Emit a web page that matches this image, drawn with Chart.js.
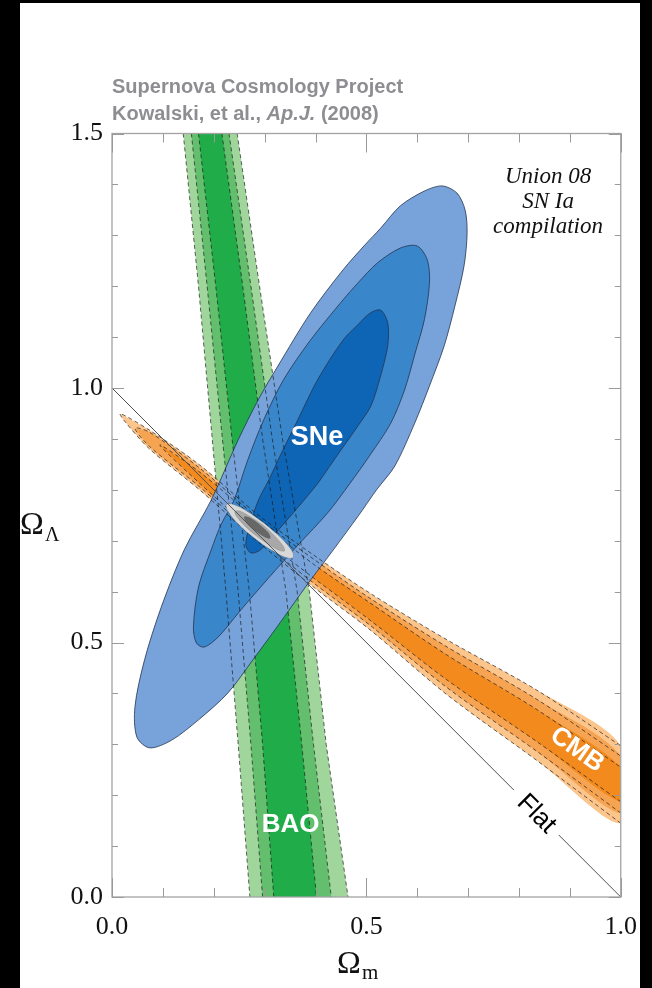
<!DOCTYPE html>
<html>
<head>
<meta charset="utf-8">
<script src="https://cdn.jsdelivr.net/npm/chart.js@4.4.1/dist/chart.umd.min.js"></script>
<style>
  html, body { margin: 0; padding: 0; background: #000; }
  canvas { display: block; }
</style>
</head>
<body>
<canvas id="chart" width="652" height="988"></canvas>
<script>
// ---- axis tick labels ----
const xTickLabels = ['0.0', '0.5', '1.0'];
const yTickLabels = ['0.0', '0.5', '1.0', '1.5'];

// ---- BAO band: edge positions (Omega_m) at fixed Omega_Lambda levels ----
const baoLambda     = [1.5, 1.2, 0.9, 0.6, 0.3, 0.0];
const baoOuterLeft  = [0.140, 0.170, 0.197, 0.224, 0.248, 0.271];
const baoOuterRight = [0.246, 0.290, 0.335, 0.388, 0.421, 0.464];
const baoMidLeft    = [0.156, 0.187, 0.217, 0.248, 0.273, 0.296];
const baoMidRight   = [0.230, 0.273, 0.315, 0.364, 0.396, 0.431];
const baoInnerLeft  = [0.170, 0.204, 0.236, 0.270, 0.296, 0.318];
const baoInnerRight = [0.216, 0.257, 0.296, 0.342, 0.373, 0.402];

// ---- CMB band: upper / lower edges, [Omega_m, Omega_Lambda] ----
const cmbOuterUpper = [[0.016,0.950],[0.074,0.917],[0.172,0.849],[0.288,0.750],[0.396,0.672],[0.507,0.597],[0.659,0.505],[0.834,0.407],[1.000,0.297]];
const cmbOuterLower = [[0.023,0.937],[0.074,0.880],[0.172,0.800],[0.288,0.697],[0.396,0.609],[0.507,0.525],[0.659,0.397],[0.834,0.269],[1.000,0.145]];
const cmbMidUpper   = [[0.045,0.921],[0.074,0.913],[0.172,0.843],[0.288,0.744],[0.396,0.664],[0.507,0.587],[0.659,0.491],[0.834,0.389],[1.000,0.277]];
const cmbMidLower   = [[0.074,0.885],[0.172,0.806],[0.288,0.704],[0.396,0.617],[0.507,0.534],[0.659,0.411],[0.834,0.287],[1.000,0.165]];
const cmbInnerUpper = [[0.094,0.888],[0.172,0.835],[0.288,0.739],[0.396,0.654],[0.507,0.578],[0.659,0.475],[0.834,0.369],[1.000,0.255]];
const cmbInnerLower = [[0.172,0.813],[0.288,0.711],[0.396,0.627],[0.507,0.544],[0.659,0.426],[0.834,0.306],[1.000,0.187]];

// ---- SNe confidence contours (closed), [Omega_m, Omega_Lambda] ----
const sneOuter = [[0.386,0.617],[0.324,0.530],[0.277,0.466],[0.228,0.401],[0.170,0.348],[0.117,0.308],[0.074,0.293],[0.049,0.314],[0.045,0.373],[0.064,0.466],[0.097,0.570],[0.142,0.682],[0.195,0.780],[0.248,0.898],[0.287,0.976],[0.326,1.043],[0.390,1.147],[0.454,1.232],[0.497,1.281],[0.528,1.314],[0.567,1.358],[0.614,1.387],[0.649,1.397],[0.678,1.383],[0.694,1.350],[0.698,1.305],[0.692,1.240],[0.674,1.161],[0.653,1.083],[0.624,1.004],[0.595,0.931],[0.556,0.847],[0.520,0.800],[0.485,0.750],[0.435,0.682]];
const sneMid   = [[0.366,0.692],[0.308,0.627],[0.250,0.560],[0.209,0.511],[0.181,0.491],[0.166,0.499],[0.160,0.530],[0.170,0.609],[0.195,0.682],[0.214,0.731],[0.240,0.780],[0.267,0.859],[0.298,0.937],[0.337,1.016],[0.390,1.094],[0.454,1.173],[0.483,1.206],[0.522,1.246],[0.567,1.275],[0.600,1.279],[0.620,1.251],[0.624,1.206],[0.614,1.134],[0.596,1.069],[0.575,0.996],[0.548,0.931],[0.507,0.868],[0.468,0.813],[0.425,0.756]];
const sneInner = [[0.405,0.813],[0.366,0.766],[0.327,0.721],[0.292,0.682],[0.273,0.676],[0.263,0.692],[0.271,0.731],[0.288,0.780],[0.308,0.819],[0.331,0.868],[0.365,0.937],[0.404,1.016],[0.454,1.094],[0.483,1.124],[0.507,1.147],[0.528,1.153],[0.542,1.128],[0.542,1.083],[0.528,1.024],[0.509,0.965],[0.483,0.925],[0.450,0.878]];

// ---- combined SNe+BAO+CMB contours (closed) ----
const jointOuter = [[0.301,0.733],[0.267,0.757],[0.239,0.771],[0.225,0.771],[0.228,0.758],[0.248,0.733],[0.280,0.705],[0.314,0.681],[0.342,0.667],[0.356,0.667],[0.353,0.681],[0.333,0.705]];
const jointMid   = [[0.298,0.730],[0.272,0.747],[0.252,0.758],[0.242,0.758],[0.244,0.749],[0.260,0.730],[0.283,0.710],[0.309,0.692],[0.329,0.681],[0.339,0.680],[0.336,0.690],[0.321,0.708]];
const jointInner = [[0.290,0.732],[0.271,0.745],[0.260,0.747],[0.264,0.736],[0.281,0.720],[0.301,0.707],[0.311,0.705],[0.307,0.716]];

// ---- flat universe line, broken where its label sits ----
const flatSegments = [[[0.0,1.0],[0.790,0.210]], [[0.878,0.122],[1.0,0.0]]];

// ---- helpers ----
const toXY = pts => pts.map(([x, y]) => ({ x, y }));
const closed = pts => toXY([...pts, pts[0]]);
const baoEdge = edge => baoLambda.map((l, i) => [edge[i], l]);
const baoShape = (left, right) => toXY([...baoEdge(left), ...baoEdge(right).reverse(), [left[0], baoLambda[0]]]);
const cmbShape = (upper, lower) => toXY([...upper, ...lower.slice().reverse(), upper[0]]);
const cmbOutline = (upper, lower) => toXY([...lower.slice().reverse(), ...upper]);

const base = { showLine: true, pointRadius: 0, pointHoverRadius: 0 };
const layers = []; // bottom first

const baoColors = ['#a0d69c', '#63bf6d', '#1fac49'];
const cmbColors = ['#fbc58c', '#f6a452', '#f28a1d'];
const sneColors = ['#77a3da', '#3a86cb', '#0e65b5'];
const jointColors = ['#d8d8d8', '#a8a8a8', '#676767'];

[[baoOuterLeft, baoOuterRight], [baoMidLeft, baoMidRight], [baoInnerLeft, baoInnerRight]].forEach(([l, r], i) => {
  layers.push({ ...base, data: baoShape(l, r), backgroundColor: baoColors[i], borderWidth: 0, fill: 'shape', tension: 0 });
});
[[cmbOuterUpper, cmbOuterLower], [cmbMidUpper, cmbMidLower], [cmbInnerUpper, cmbInnerLower]].forEach(([u, lo], i) => {
  layers.push({ ...base, data: cmbShape(u, lo), backgroundColor: cmbColors[i], borderWidth: 0, fill: 'shape', tension: 0.3 });
});
[sneOuter, sneMid, sneInner].forEach((pts, i) => {
  layers.push({ ...base, data: closed(pts), backgroundColor: sneColors[i], borderColor: '#23344f', borderWidth: 0.8, fill: 'shape', tension: 0.3 });
});
const dashed = { ...base, fill: false, borderColor: 'rgba(25,25,25,0.85)', borderWidth: 0.8, borderDash: [4, 3] };
[baoOuterLeft, baoOuterRight, baoMidLeft, baoMidRight, baoInnerLeft, baoInnerRight].forEach(edge => {
  layers.push({ ...dashed, data: toXY(baoEdge(edge)), tension: 0 });
});
[[cmbOuterUpper, cmbOuterLower], [cmbMidUpper, cmbMidLower], [cmbInnerUpper, cmbInnerLower]].forEach(([u, lo]) => {
  layers.push({ ...dashed, data: cmbOutline(u, lo), tension: 0.3 });
});
[jointOuter, jointMid, jointInner].forEach((pts, i) => {
  layers.push({ ...base, data: closed(pts), backgroundColor: jointColors[i], borderColor: 'rgba(90,90,90,0.5)', borderWidth: 0.5, fill: 'shape', tension: 0.35 });
});
flatSegments.forEach(seg => {
  layers.push({ ...base, data: toXY(seg), borderColor: '#505050', borderWidth: 1, fill: false, tension: 0 });
});
// lower "order" is painted later, so the last layer gets the lowest value
layers.forEach((ds, i) => { ds.order = layers.length - i; });

const isHalf = v => Math.abs(v * 2 - Math.round(v * 2)) < 1e-6;

// page background, frame, inward tick marks and text
const frameTicks = {
  id: 'frameTicks',
  beforeDraw(chart) {
    const { ctx } = chart;
    ctx.save();
    ctx.fillStyle = '#fff';
    ctx.fillRect(20, 3, 620, 985);
    ctx.restore();
  },
  afterDatasetsDraw(chart) {
    const { ctx, chartArea: a, scales: { x, y } } = chart;
    ctx.save();
    ctx.strokeStyle = '#a3a3a3';
    ctx.lineWidth = 1.3;
    ctx.strokeRect(a.left, a.top, a.right - a.left, a.bottom - a.top);
    ctx.lineWidth = 1;
    ctx.strokeStyle = '#9a9a9a';
    ctx.beginPath();
    x.ticks.forEach(t => {
      const px = Math.round(x.getPixelForValue(t.value)) + 0.5;
      const L = isHalf(t.value) ? 19 : 9;
      ctx.moveTo(px, a.bottom); ctx.lineTo(px, a.bottom - L);
      ctx.moveTo(px, a.top); ctx.lineTo(px, a.top + L);
    });
    y.ticks.forEach(t => {
      const py = Math.round(y.getPixelForValue(t.value)) + 0.5;
      const L = isHalf(t.value) ? 12 : 6;
      ctx.moveTo(a.left, py); ctx.lineTo(a.left + L, py);
      ctx.moveTo(a.right, py); ctx.lineTo(a.right - L, py);
    });
    ctx.stroke();
    ctx.restore();
  },
  afterDraw(chart) {
    const { ctx, scales: { x, y } } = chart;
    ctx.save();

    // labels placed in data space
    const note = (txt, vx, vy, font, color, angle) => {
      ctx.save();
      ctx.translate(x.getPixelForValue(vx), y.getPixelForValue(vy));
      ctx.rotate(angle * Math.PI / 180);
      ctx.font = font;
      ctx.fillStyle = color;
      ctx.textAlign = 'center';
      ctx.textBaseline = 'middle';
      ctx.fillText(txt, 0, 0);
      ctx.restore();
    };
    const sans = '"Liberation Sans", Arial, Helvetica, sans-serif';
    note('SNe', 0.403, 0.902, 'bold 27px ' + sans, '#fff', 0);
    note('BAO', 0.351, 0.141, 'bold 26px ' + sans, '#fff', 0);
    note('CMB', 0.914, 0.289, 'bold 26px ' + sans, '#fff', 35);
    note('Flat', 0.834, 0.163, '26px ' + sans, '#000', 45);

    // compilation note
    ctx.font = 'italic 23px "Liberation Serif", "Times New Roman", serif';
    ctx.fillStyle = '#111';
    ctx.textAlign = 'center';
    ctx.textBaseline = 'alphabetic';
    ctx.fillText('Union 08', 548, 183);
    ctx.fillText('SN Ia', 548, 208);
    ctx.fillText('compilation', 548, 233);

    // header
    ctx.textAlign = 'left';
    ctx.fillStyle = '#8e8e92';
    ctx.font = 'bold 20px ' + sans;
    ctx.fillText('Supernova Cosmology Project', 112, 93);
    let cx = 112;
    const part = (txt, font) => { ctx.font = font; ctx.fillText(txt, cx, 120); cx += ctx.measureText(txt).width; };
    part('Kowalski, et al., ', 'bold 20px ' + sans);
    part('Ap.J.', 'italic bold 20px ' + sans);
    part(' (2008)', 'bold 20px ' + sans);

    // axis titles
    const serif = '"Liberation Serif", "Times New Roman", serif';
    ctx.fillStyle = '#111';
    ctx.font = '32px ' + serif;
    ctx.fillText('\u03A9', 20, 534);
    ctx.font = '20px ' + serif;
    ctx.fillText('\u039B', 45, 541);
    ctx.font = '32px ' + serif;
    ctx.fillText('\u03A9', 337, 973);
    ctx.font = '21px ' + serif;
    ctx.fillText('m', 362, 979);

    // black margins around the sheet
    ctx.fillStyle = '#000';
    ctx.fillRect(640, 0, 12, 988);
    ctx.fillRect(0, 0, 20, 988);
    ctx.fillRect(0, 0, 652, 3);
    ctx.restore();
  }
};

const tickFont = { family: '"Liberation Serif", "Times New Roman", serif', size: 26 };

new Chart(document.getElementById('chart'), {
  type: 'scatter',
  data: { datasets: layers },
  options: {
    responsive: false,
    animation: false,
    events: [],
    layout: { padding: { top: 133.5, right: 27, bottom: 0, left: 0 } },
    plugins: { legend: { display: false }, tooltip: { enabled: false } },
    scales: {
      x: {
        type: 'linear', min: 0, max: 1,
        grid: { display: false, drawTicks: false },
        border: { display: false },
        ticks: {
          stepSize: 0.1, autoSkip: false, maxRotation: 0, padding: 15,
          color: '#111', font: tickFont,
          callback: v => { const s = v.toFixed(1); return xTickLabels.includes(s) ? s : ''; }
        },
        afterFit: s => { s.height = 91; }
      },
      y: {
        type: 'linear', min: 0, max: 1.5,
        grid: { display: false, drawTicks: false },
        border: { display: false },
        ticks: {
          stepSize: 0.1, autoSkip: false, padding: 9,
          color: '#111', font: tickFont,
          callback: v => { const s = v.toFixed(1); return yTickLabels.includes(s) ? s : ''; }
        },
        afterFit: s => { s.width = 112; }
      }
    }
  },
  plugins: [frameTicks]
});
</script>
</body>
</html>
